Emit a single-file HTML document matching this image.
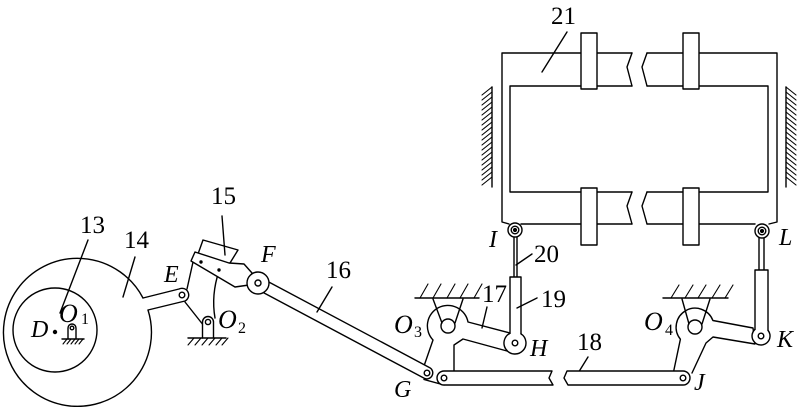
<!DOCTYPE html>
<html><head><meta charset="utf-8"><style>
html,body{margin:0;padding:0;background:#fff;}
svg{display:block;}
text{font-family:"Liberation Serif","Times New Roman",serif;fill:#000;stroke:none;}
.n{font-size:25px;font-style:normal;font-weight:normal;}
.l{font-size:24px;font-style:italic;font-weight:normal;}
.o{font-size:26px;font-style:italic;font-weight:normal;}
.s{font-size:16px;font-style:normal;font-weight:normal;}
</style></head><body>
<svg width="800" height="407" viewBox="0 0 800 407" xmlns="http://www.w3.org/2000/svg">
<g fill="none" stroke="#000" stroke-width="1.4" stroke-linejoin="round" stroke-linecap="round">
<!-- Frame 21 -->
<path d="M632 53 L502 53 L502 222 L509 224"/>
<path d="M521 224 L632 224"/>
<path d="M632 86 L510 86 L510 192 L632 192"/>
<path d="M632 53 L627 67 L632 86"/>
<path d="M632 192 L627 206 L632 224"/>
<path d="M647 53 L777 53 L777 222 L769 224"/>
<path d="M755 224 L647 224"/>
<path d="M647 86 L768 86 L768 192 L647 192"/>
<path d="M647 53 L642 67 L647 86"/>
<path d="M647 192 L642 206 L647 224"/>
<rect x="581" y="33" width="16" height="56" fill="#fff"/>
<rect x="683" y="33" width="16" height="56" fill="#fff"/>
<rect x="581" y="188" width="16" height="57" fill="#fff"/>
<rect x="683" y="188" width="16" height="57" fill="#fff"/>
<!-- walls -->
<path d="M492 87 L492 187"/>
<path stroke-width="1.1" d="M492 87l-10 8M492 92l-10 8M492 97l-10 8M492 102l-10 8M492 107l-10 8M492 112l-10 8M492 117l-10 8M492 122l-10 8M492 127l-10 8M492 132l-10 8M492 137l-10 8M492 142l-10 8M492 147l-10 8M492 152l-10 8M492 157l-10 8M492 162l-10 8M492 167l-10 8M492 172l-10 8M492 177l-10 8"/>
<path d="M786 87 L786 187"/>
<path stroke-width="1.1" d="M786 87l10 8M786 92l10 8M786 97l10 8M786 102l10 8M786 107l10 8M786 112l10 8M786 117l10 8M786 122l10 8M786 127l10 8M786 132l10 8M786 137l10 8M786 142l10 8M786 147l10 8M786 152l10 8M786 157l10 8M786 162l10 8M786 167l10 8M786 172l10 8M786 177l10 8"/>
<!-- leader 21 -->
<path d="M567 32 L542 72"/>

<!-- Circles 13/14 -->
<path d="M143 298 A74 74 0 1 0 148 310"/>
<circle cx="55" cy="330" r="42"/>
<circle cx="55" cy="332" r="1.5" fill="#000"/>
<path d="M68 339 L68 328 A4 4 0 0 1 76 328 L76 339" fill="#fff"/>
<circle cx="72" cy="328" r="1.8"/>
<path d="M62 339 L84 339"/>
<path stroke-width="1.1" d="M67 339l-4 5M71 339l-4 5M75 339l-4 5M79 339l-4 5M83 339l-4 5"/>
<path d="M88 240 L60 313"/>
<path d="M135 257 L123 297"/>
<!-- arm 14 to E -->
<path d="M143 298 L179 289 A6.7 6.7 0 0 1 185 301 L148 310" fill="#fff"/>
<circle cx="182" cy="295" r="2.8"/>
<!-- rocker E-O2 -->
<path d="M185 302 L204 326"/>
<path d="M187 289 L193 262"/>
<path d="M219 271 Q211 295 215 318"/>
<!-- O2 pivot -->
<path d="M202.5 338 L202.5 322 A5.5 5.5 0 0 1 213.5 322 L213.5 338" fill="#fff"/>
<circle cx="208" cy="322" r="2.6"/>
<path d="M188 338 L226 338"/>
<path stroke-width="1.1" d="M194 338l-6 7M201 338l-6 7M208 338l-6 7M215 338l-6 7M222 338l-6 7M228 338l-6 7"/>
<!-- part 15 -->
<path d="M198 254 L203 240 L238 250 L230 263" fill="#fff"/>
<path d="M195 252 L229 263 L244 264 L252 273 L249 285 L235 287 L191 261 Z" fill="#fff"/>
<circle cx="201" cy="262" r="1" fill="#000"/>
<circle cx="219" cy="270" r="1" fill="#000"/>
<path d="M222 216 L225 255"/>

<!-- O3 rocker -->
<path d="M424 366 L433 340 A20.5 20.5 0 1 1 468 322 L510 333 L507 351 L463 339 L454 345 L454 371" fill="#fff"/>
<circle cx="448" cy="326" r="7"/>
<path d="M415 298 L479 298"/>
<path stroke-width="1.1" d="M420 298l8 -14M433 298l8 -14M447 298l8 -14M460 298l8 -14M474 298l8 -14"/>
<path d="M433 299 L442 323"/>
<path d="M463 299 L455 323"/>
<path d="M487 307 L482 328"/>

<!-- link 16 -->
<path d="M260.8 277.7 L429.8 367.7 A6 6 0 0 1 424.2 378.3 L255.2 288.3 A6 6 0 0 1 260.8 277.7 Z" fill="#fff"/>
<circle cx="427" cy="373" r="2.8"/>
<path d="M424 379.5 L444 385"/>
<path d="M332 287 L317 312"/>
<!-- F roller -->
<circle cx="258" cy="283" r="11" fill="#fff"/>
<circle cx="258" cy="283" r="3"/>

<!-- bar 18 -->
<path d="M552 371 L444 371 A7 7 0 0 0 444 385 L553 385 L549 378 Z" fill="#fff"/>
<circle cx="444" cy="378" r="2.8"/>
<path d="M588 357 L575 378"/>

<!-- O4 rocker -->
<path d="M673.5 372 L680.4 339.2 A19 19 0 1 1 712.9 320.5 L753 328 L755 344 L713 337 L706 343 L692 373" fill="#fff"/>
<circle cx="695" cy="327" r="7"/>
<path d="M663 298 L728 298"/>
<path stroke-width="1.1" d="M671 298l8 -13M685 298l8 -13M698 298l8 -13M712 298l8 -13M725 298l8 -13"/>
<path d="M682 299 L689 324"/>
<path d="M710 299 L702 324"/>
<path d="M567 371 L683 371 A7 7 0 0 1 683 385 L568 385 L564 378 Z" fill="#fff"/>
<circle cx="683" cy="378" r="2.8"/>

<!-- cylinder 19/20 -->
<path d="M514 236 L514 277 M517 236 L517 277"/>
<rect x="510" y="277" width="11" height="66" fill="#fff"/>
<circle cx="515" cy="343" r="10.3" fill="#fff" stroke="none"/>
<path d="M510 333.2 A11 11 0 1 0 521 333.8"/>
<circle cx="515" cy="343" r="2.8"/>
<path d="M532 254 L516 265"/>
<path d="M537 298 L517 308"/>

<!-- cylinder K-L -->
<path d="M759 237 L759 270 M764 237 L764 270"/>
<rect x="755" y="270" width="13" height="66" fill="#fff"/>
<circle cx="761" cy="336" r="8.3" fill="#fff" stroke="none"/>
<path d="M755 329.3 A9 9 0 1 0 768 330.3"/>
<circle cx="761" cy="336" r="2.8"/>

<!-- pins I and L -->
<circle cx="515" cy="230" r="7" fill="#fff"/>
<circle cx="515" cy="230" r="3.8"/>
<circle cx="515" cy="230" r="1.4" fill="#000"/>
<circle cx="762" cy="231" r="7" fill="#fff"/>
<circle cx="762" cy="231" r="3.8"/>
<circle cx="762" cy="231" r="1.4" fill="#000"/>
</g>

<g font-family="Liberation Serif, serif" fill="#000">
<!-- numbers -->
<text x="551" y="24" class="n">21</text>
<text x="80" y="233" class="n">13</text>
<text x="124" y="248" class="n">14</text>
<text x="211" y="204" class="n">15</text>
<text x="326" y="278" class="n">16</text>
<text x="482" y="302" class="n">17</text>
<text x="577" y="350" class="n">18</text>
<text x="541" y="307" class="n">19</text>
<text x="534" y="262" class="n">20</text>

<!-- letters -->
<text x="31" y="337" class="l">D</text>
<text x="59" y="322" class="o">O</text><text x="81" y="324" class="s">1</text>
<text x="164" y="282" class="l">E</text>
<text x="218" y="328" class="o">O</text><text x="238" y="333" class="s">2</text>
<text x="261" y="262" class="l">F</text>
<text x="394" y="397" class="l">G</text>
<text x="394" y="333" class="o">O</text><text x="414" y="337" class="s">3</text>
<text x="530" y="356" class="l">H</text>
<text x="489" y="247" class="l">I</text>
<text x="694" y="390" class="l">J</text>
<text x="777" y="347" class="l">K</text>
<text x="779" y="245" class="l">L</text>
<text x="644" y="330" class="o">O</text><text x="665" y="335" class="s">4</text>
</g>
</svg>
</body></html>
